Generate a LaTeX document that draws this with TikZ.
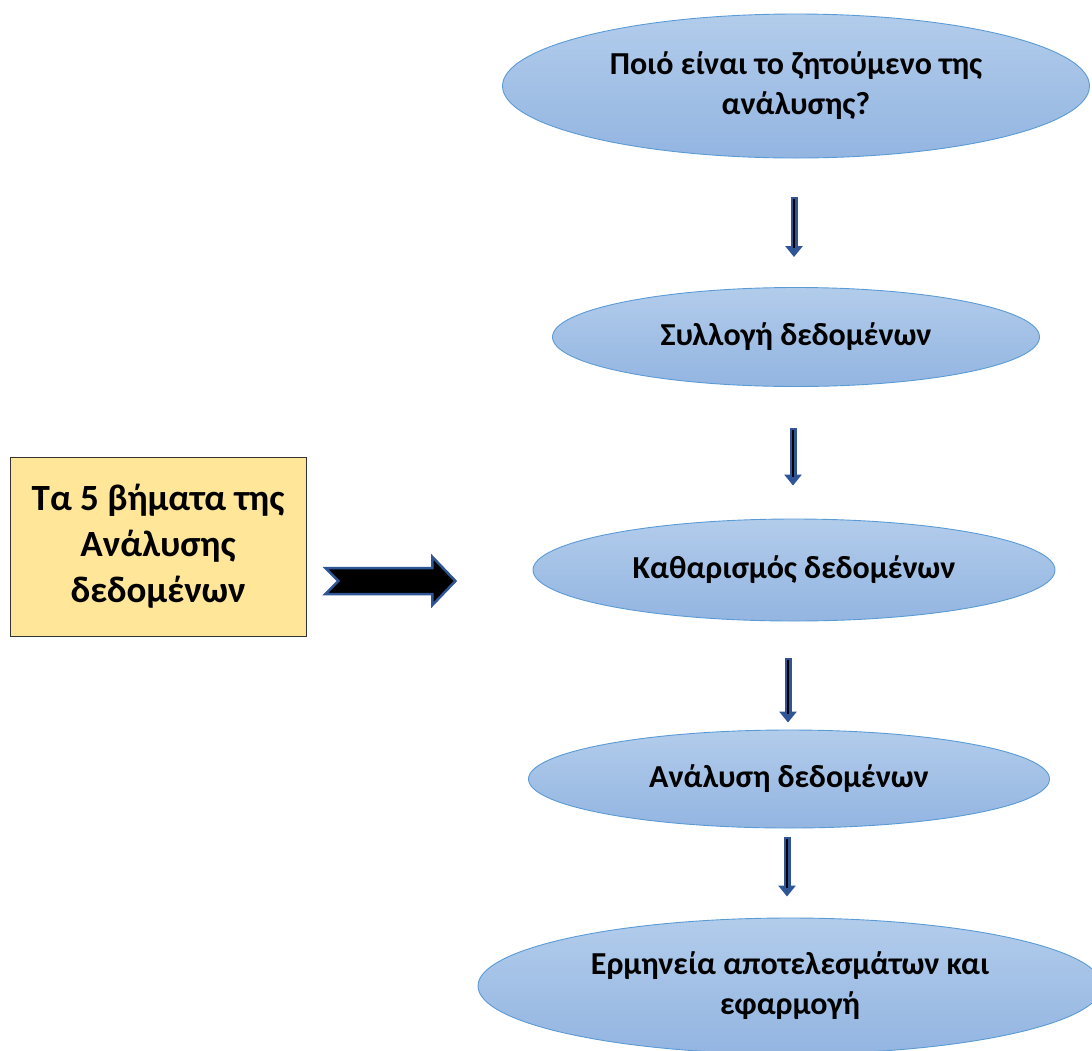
\documentclass[tikz,border=0pt]{standalone}
\usepackage{fontspec}
\setmainfont{Carlito}
\usetikzlibrary{shapes.geometric,arrows.meta,calc}
\definecolor{elltop}{HTML}{B2CCEB}
\definecolor{ellbot}{HTML}{93B5E1}
\definecolor{ellline}{HTML}{5B9BD5}
\definecolor{arrowblue}{HTML}{2F5597}
\definecolor{boxfill}{HTML}{FFE699}
\tikzset{
  stepell/.style={ellipse, draw=ellline, line width=0.9pt, top color=elltop, bottom color=ellbot,
    inner sep=0pt, align=center, font=\bfseries\fontsize{32}{40}\selectfont},
  titlebox/.style={rectangle, draw=black!80, line width=0.9pt, fill=boxfill, inner sep=0pt,
    align=center, font=\bfseries\fontsize{37}{46}\selectfont},
  arr/.style 2 args={draw=arrowblue, line width=7pt, shorten <=#1, shorten >=#2,
    -{Triangle[width=17pt,length=11pt]},
    postaction={draw=black, line width=2.4pt, -, shorten <=#1+2pt, shorten >=#2+9pt}},
}
\begin{document}
\begin{tikzpicture}[x=1pt,y=-1pt]
\useasboundingbox (0,0) rectangle (1092,1050);
\clip (0,0) rectangle (1092,1050);

\node[stepell, minimum width=587pt, minimum height=144pt] (e1) at (796,86) {Ποιό είναι το ζητούμενο της\\ανάλυσης?};
\node[stepell, minimum width=487pt, minimum height=99pt] (e2) at (796,337) {Συλλογή δεδομένων};
\node[stepell, minimum width=522pt, minimum height=102pt] (e3) at (794,570) {Καθαρισμός δεδομένων};
\node[stepell, minimum width=521pt, minimum height=98pt] (e4) at (789,779) {Ανάλυση δεδομένων};
\node[stepell, minimum width=624pt, minimum height=136pt] (e5) at (790,986) {Ερμηνεία αποτελεσμάτων και\\εφαρμογή};

\node[titlebox, minimum width=296pt, minimum height=179pt] (box) at (158,546.5) {Τα 5 βήματα της\\Ανάλυσης\\δεδομένων};

\draw[arr={39pt}{30pt}] ([xshift=-2pt]e1.south) -- ([xshift=-2pt]e1.south |- e2.north);
\draw[arr={41pt}{33pt}] ([xshift=-3pt]e2.south) -- ([xshift=-3pt]e2.south |- e3.north);
\draw[arr={37pt}{7pt}] ([xshift=-6pt]e3.south) -- ([xshift=-6pt]e3.south |- e4.north);
\draw[arr={9pt}{21pt}] ([xshift=-2pt]e4.south) -- ([xshift=-2pt]e4.south |- e5.north);

% big block arrow from the title box towards the steps
\coordinate (bigtail) at ([xshift=19pt,yshift=-34.5pt]box.east);
\draw[draw=arrowblue, fill=black, line width=2.5pt, line join=miter]
  (bigtail) ++(0,-13) -- ++(107,0) -- ++(0,-11) -- ++(23,24) -- ++(-23,24) -- ++(0,-11)
  -- ++(-107,0) -- ++(13,-13) -- cycle;
\end{tikzpicture}
\end{document}
